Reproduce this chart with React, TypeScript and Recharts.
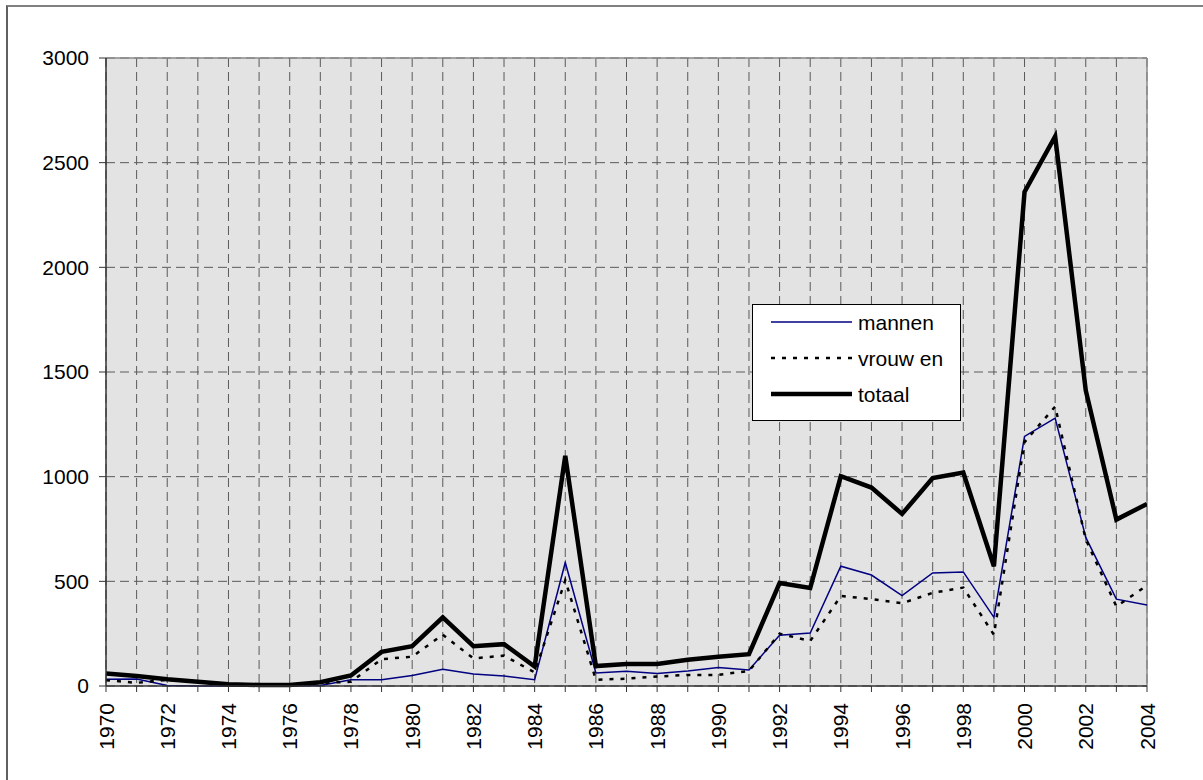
import React from 'react';
import { LineChart, Line, XAxis, YAxis, CartesianGrid, ReferenceLine } from 'recharts';

const years = [
  1970, 1971, 1972, 1973, 1974, 1975, 1976, 1977, 1978, 1979,
  1980, 1981, 1982, 1983, 1984, 1985, 1986, 1987, 1988, 1989,
  1990, 1991, 1992, 1993, 1994, 1995, 1996, 1997, 1998, 1999,
  2000, 2001, 2002, 2003, 2004,
];

const mannen = [
  32, 33, 2, 0, 0, 0, 0, 2, 30, 30,
  50, 80, 57, 48, 30, 590, 62, 70, 60, 72,
  88, 76, 243, 253, 572, 530, 432, 540, 545, 328,
  1192, 1280, 710, 415, 387,
];

const vrouwen = [
  28, 15, 30, 20, 8, 5, 5, 15, 20, 128,
  140, 245, 132, 145, 65, 505, 30, 35, 45, 53,
  53, 72, 250, 215, 430, 415, 395, 445, 470, 245,
  1165, 1335, 700, 380, 480,
];

const totaal = [
  60, 48, 32, 20, 8, 5, 5, 18, 50, 163,
  190, 328, 190, 200, 93, 1100, 95, 105, 105, 125,
  140, 152, 492, 468, 1002, 948, 822, 993, 1020, 572,
  2360, 2625, 1412, 795, 870,
];

const yTicks = [0, 500, 1000, 1500, 2000, 2500, 3000];

const legendItems = [
  { label: 'mannen', stroke: '#000080', width: 1.5, dash: undefined as string | undefined },
  { label: 'vrouw en', stroke: '#000000', width: 2.5, dash: '4 7' },
  { label: 'totaal', stroke: '#000000', width: 4.5, dash: undefined as string | undefined },
];

const data = years.map((y, i) => ({
  year: y,
  mannen: mannen[i],
  vrouwen: vrouwen[i],
  totaal: totaal[i],
}));

const FONT = '"Liberation Sans", Arial, sans-serif';

const XTick = (props: any) => {
  const { x, y, payload } = props;
  const v = payload.value as number;
  if (v % 2 !== 0) return <g />;
  return (
    <text
      x={x}
      y={y}
      transform={`rotate(-90, ${x}, ${y})`}
      textAnchor="end"
      dy="0.36em"
      fontSize={21}
      fontFamily={FONT}
      fill="#000"
    >
      {v}
    </text>
  );
};

export default function App() {
  return (
    <div style={{ position: 'absolute', left: 0, top: 0, width: 1203, height: 780, background: '#fff', overflow: 'hidden' }}>
      <div
        style={{
          position: 'absolute',
          left: 6,
          top: 5,
          width: 1300,
          height: 900,
          borderTop: '2px solid #808080',
          borderLeft: '2px solid #606060',
        }}
      />
      <div style={{ position: 'absolute', left: 0, top: 0 }}>
        <LineChart
          width={1203}
          height={780}
          data={data}
          margin={{ top: 58, right: 56, bottom: 64, left: 0 }}
        >
          <CartesianGrid
            fill="#e3e3e3"
            fillOpacity={1}
            stroke="#5a5a5a"
            strokeDasharray="9 5"
          />
          <ReferenceLine y={3000} stroke="#8a8a8a" strokeWidth={1.5} />
          <ReferenceLine x={2004} stroke="#8a8a8a" strokeWidth={1.5} />
          <XAxis
            dataKey="year"
            type="number"
            domain={[1970, 2004]}
            ticks={years}
            interval={0}
            height={30}
            tickSize={6}
            tickMargin={11}
            tick={<XTick />}
            axisLine={{ stroke: '#333', strokeWidth: 1.5 }}
            tickLine={{ stroke: '#333', strokeWidth: 1 }}
            allowDataOverflow
          />
          <YAxis
            type="number"
            domain={[0, 3000]}
            ticks={yTicks}
            interval={0}
            width={106}
            tickSize={7}
            tickMargin={10}
            tick={{ fontSize: 21, fontFamily: FONT, fill: '#000' }}
            axisLine={{ stroke: '#333', strokeWidth: 1.5 }}
            tickLine={{ stroke: '#333', strokeWidth: 1 }}
          />
          <Line
            type="linear"
            dataKey="mannen"
            stroke="#000080"
            strokeWidth={1.5}
            dot={false}
            activeDot={false}
            isAnimationActive={false}
          />
          <Line
            type="linear"
            dataKey="vrouwen"
            stroke="#000"
            strokeWidth={2.5}
            strokeDasharray="4 7"
            dot={false}
            activeDot={false}
            isAnimationActive={false}
          />
          <Line
            type="linear"
            dataKey="totaal"
            stroke="#000"
            strokeWidth={4.5}
            dot={false}
            activeDot={false}
            isAnimationActive={false}
          />
        </LineChart>
      </div>
      <svg
        style={{ position: 'absolute', left: 752, top: 304 }}
        width={210}
        height={118}
      >
        <rect x={0.5} y={0.5} width={208} height={116} fill="#fff" stroke="#000" strokeWidth={1} />
        {legendItems.map((it, i) => {
          const cy = 18 + i * 36;
          return (
            <g key={it.label}>
              <line
                x1={19}
                x2={100}
                y1={cy}
                y2={cy}
                stroke={it.stroke}
                strokeWidth={it.width}
                strokeDasharray={it.dash}
              />
              <text x={106} y={cy} dy="0.36em" fontSize={21} fontFamily={FONT} fill="#000">
                {it.label}
              </text>
            </g>
          );
        })}
      </svg>
    </div>
  );
}
